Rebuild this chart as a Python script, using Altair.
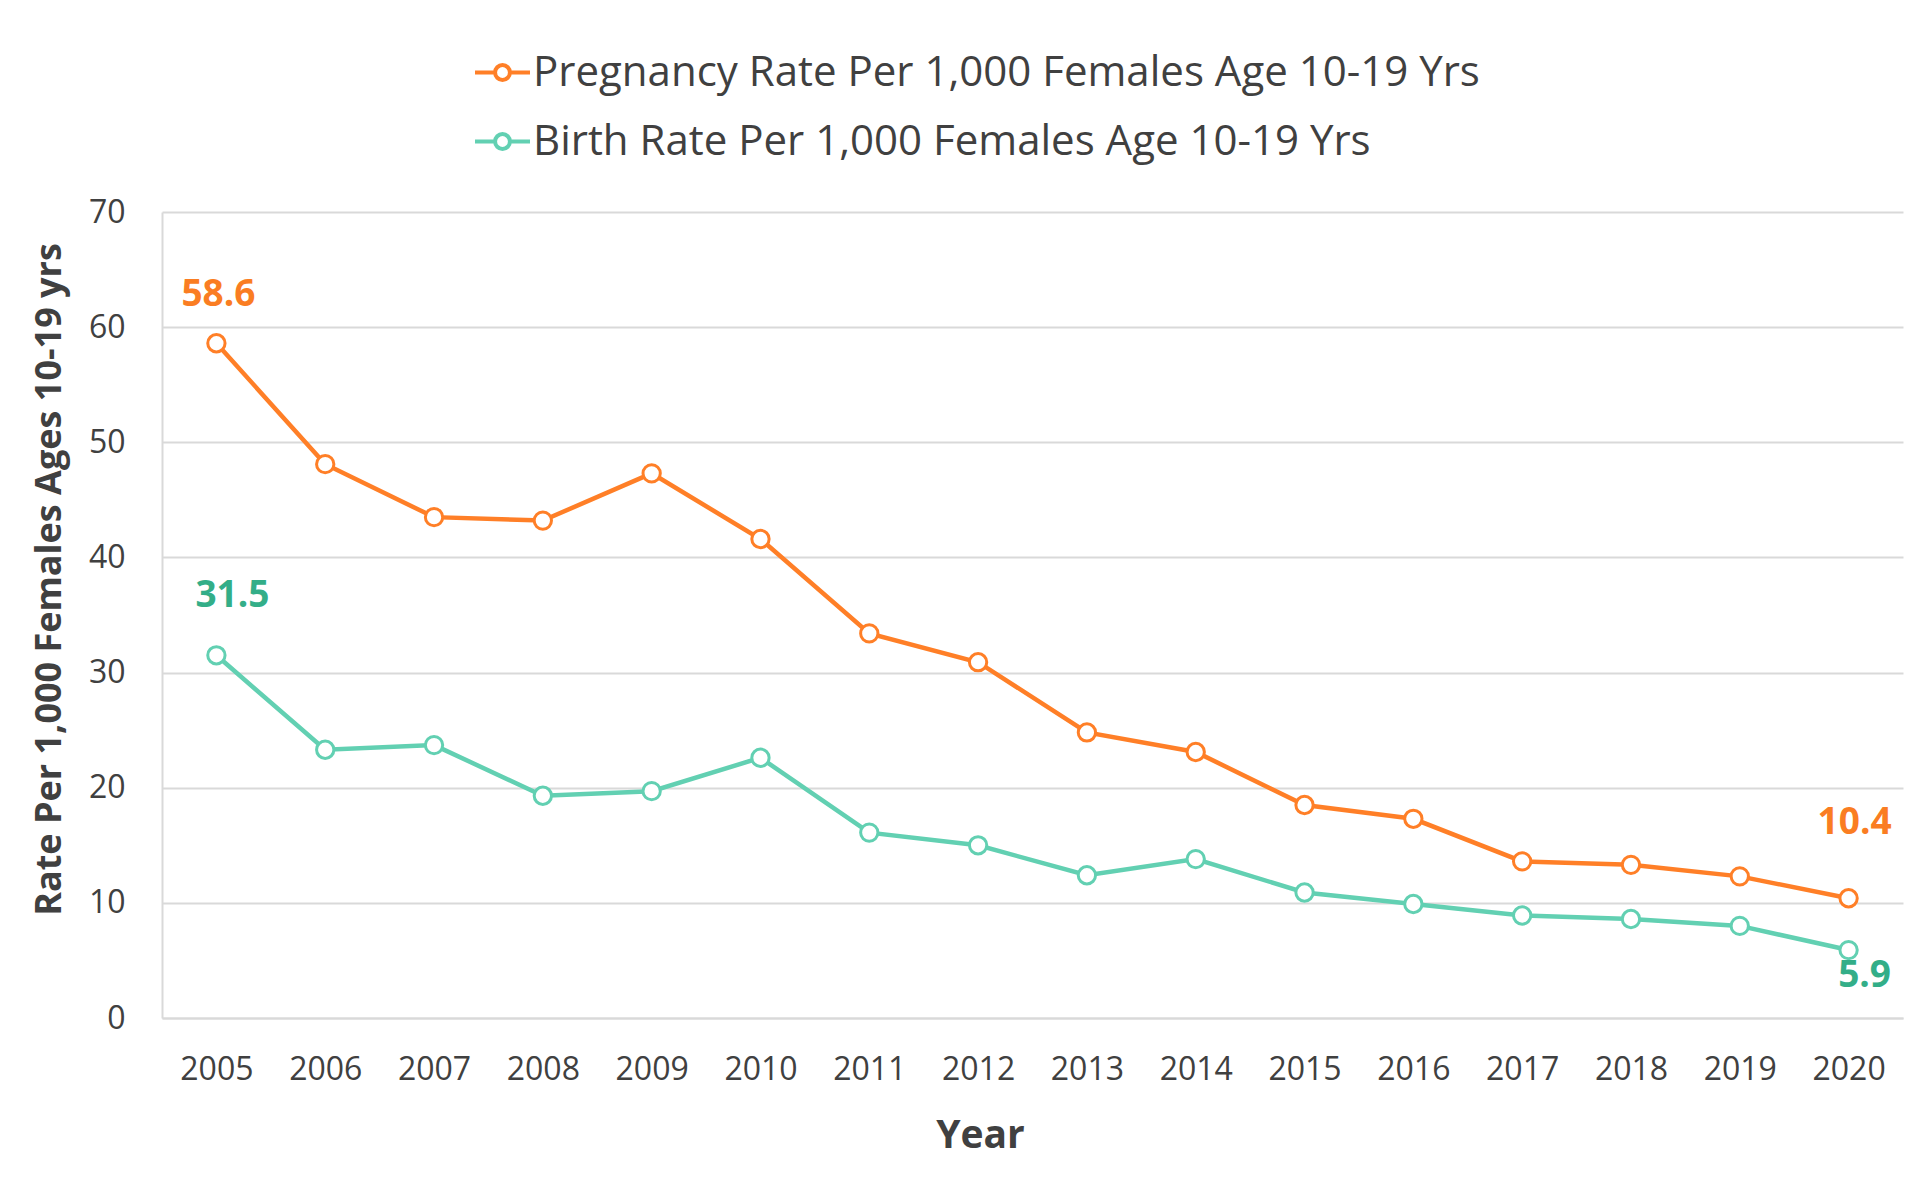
import altair as alt
import pandas as pd

years = [str(y) for y in range(2005, 2021)]
pregnancy = [58.6, 48.1, 43.5, 43.2, 47.3, 41.6, 33.4, 30.9, 24.8, 23.1, 18.5, 17.3, 13.6, 13.3, 12.3, 10.4]
birth = [31.5, 23.3, 23.7, 19.3, 19.7, 22.6, 16.1, 15.0, 12.4, 13.8, 10.9, 9.9, 8.9, 8.6, 8.0, 5.9]
series_names = ["Pregnancy Rate Per 1,000 Females Age 10-19 Yrs",
                "Birth Rate Per 1,000 Females Age 10-19 Yrs"]
line_colors = ["#FF7F27", "#62D0B2"]
label_colors = ["#FA7D22", "#33AE88"]
y_ticks = [0, 10, 20, 30, 40, 50, 60, 70]

# labels: (series index, year, dx, dy)
label_specs = [(0, "2005", 2, -37), (1, "2005", 16, -48), (0, "2020", 6, -64), (1, "2020", 16, 37)]

rows = []
for i, vals in enumerate([pregnancy, birth]):
    for y, v in zip(years, vals):
        rows.append({"Year": y, "Rate": v, "Series": series_names[i], "Label": f"{v:.1f}"})
df = pd.DataFrame(rows)

FONT = "Open Sans"
TXT = "#404040"

legend_path = ("M-1,0L-0.27,0M0.27,0L1,0"
               "M-0.27,0A0.27,0.27 0 1,0 0.27,0A0.27,0.27 0 1,0 -0.27,0Z")

x_enc = alt.X("Year:O", sort=years,
              scale=alt.Scale(type="point", padding=0.5),
              axis=alt.Axis(title="Year", labelAngle=0, ticks=False, tickSize=0,
                            labelFont=FONT, labelFontSize=32, labelColor=TXT,
                            labelPadding=61, labelBaseline="alphabetic",
                            domainColor="#d9d9d9", domainWidth=2, grid=False,
                            titleFont=FONT, titleFontSize=39, titleFontWeight="bold",
                            titleColor=TXT, titleX=818, titleY=129,
                            titleAlign="center", titleBaseline="alphabetic"))
y_enc = alt.Y("Rate:Q", scale=alt.Scale(domain=[0, 70], nice=False, zero=True),
              axis=alt.Axis(title="Rate Per 1,000 Females Ages 10-19 yrs",
                            values=y_ticks, ticks=False, tickSize=0,
                            labelFont=FONT, labelFontSize=32, labelColor=TXT,
                            labelPadding=37,
                            grid=True, gridColor="#d9d9d9", gridWidth=2,
                            domainColor="#d9d9d9", domainWidth=2,
                            titleFont=FONT, titleFontSize=36, titleFontWeight="bold",
                            titleColor=TXT, titleAngle=270, titleX=-102, titleY=367,
                            titleAlign="center", titleBaseline="alphabetic"))
color_enc = alt.Color("Series:N",
                      scale=alt.Scale(domain=series_names, range=line_colors),
                      legend=alt.Legend(title=None, orient="none", legendX=311, legendY=-169,
                                        symbolType=legend_path, symbolSize=3025,
                                        symbolStrokeWidth=4, symbolFillColor="white",
                                        labelFont=FONT, labelFontSize=42, labelColor=TXT,
                                        labelOffset=1, rowPadding=18, padding=0,
                                        direction="vertical", labelLimit=0))

base = alt.Chart(df)
lines = base.mark_line(strokeWidth=4.5).encode(x=x_enc, y=y_enc, color=color_enc)
points = base.mark_point(shape="circle", fill="white", fillOpacity=1, filled=False,
                         size=300, strokeWidth=3, opacity=1).encode(
    x=x_enc, y=y_enc, color=alt.Color("Series:N", scale=alt.Scale(domain=series_names, range=line_colors), legend=None))

layers = [lines, points]
for si, yr, dx, dy in label_specs:
    t = base.transform_filter(
        (alt.datum.Series == series_names[si]) & (alt.datum.Year == yr)
    ).mark_text(font=FONT, fontSize=37, fontWeight="bold", color=label_colors[si],
                align="center", baseline="alphabetic", dx=dx, dy=dy).encode(
        x=x_enc, y=y_enc, text="Label:N")
    layers.append(t)

chart = alt.layer(*layers).properties(
    width=1741, height=806,
    autosize=alt.AutoSizeParams(type="none"),
    padding={"left": 154, "top": 204, "right": 10, "bottom": 155},
    background="white",
).configure_view(stroke=None)

chart.save("out.html", embed_options={"renderer": "svg", "actions": False})
